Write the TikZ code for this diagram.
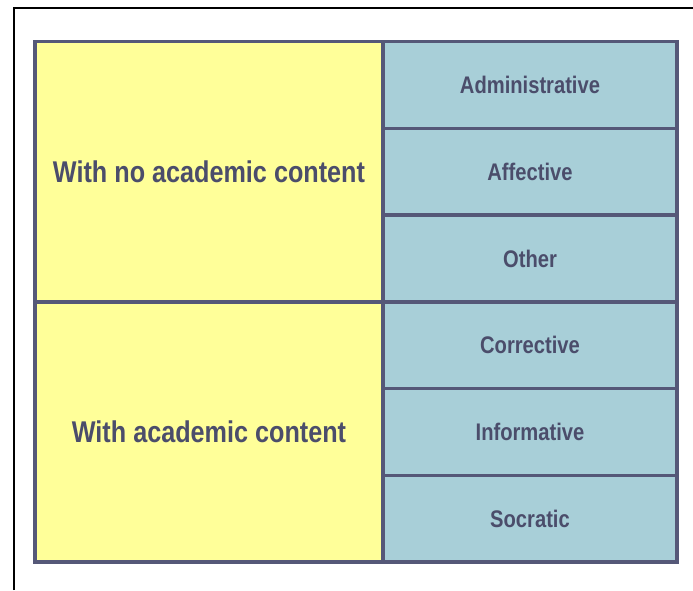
\documentclass[tikz,border=0pt]{standalone}
\usepackage{fontspec}
\setmainfont{Liberation Sans}
\usepackage{graphicx}

\definecolor{cellyellow}{HTML}{FFFF99}
\definecolor{cellblue}{HTML}{A8CFD8}
\definecolor{gridline}{HTML}{555878}
\definecolor{labeltext}{HTML}{4B4D6B}

\newcommand{\narrowtext}[1]{\scalebox{0.84}[1]{#1}}

\begin{document}
\begin{tikzpicture}[x=1pt,y=-1pt]
  \tikzset{cell/.style={draw=gridline, line width=3.5pt, inner sep=0pt, outer sep=0pt,
                        text=labeltext, font=\bfseries},
           groupcell/.style={cell, fill=cellyellow, minimum width=348pt, minimum height=260pt,
                        font=\bfseries\fontsize{30}{36}\selectfont},
           kindcell/.style={cell, fill=cellblue, minimum width=294pt, minimum height=86.72pt,
                        font=\bfseries\fontsize{24}{29}\selectfont}}
  \useasboundingbox (0,0) rectangle (693,590);
  % frame
  \draw[line width=2pt] (14,590) -- (14,8) -- (693,8);
  % left column
  \node[groupcell] (noacad) at (209,171.7) {\narrowtext{With no academic content}};
  \node[groupcell] (acad) at (209,431.9) {\narrowtext{With academic content}};
  % right column
  \foreach \name/\kind [count=\i] in {admin/Administrative, affect/Affective, other/Other,
                                      correct/Corrective, inform/Informative, socratic/Socratic}
    \node[kindcell] (\name) at (530,{41.7+86.72*(\i-0.5)}) {\narrowtext{\kind}};
\end{tikzpicture}
\end{document}
